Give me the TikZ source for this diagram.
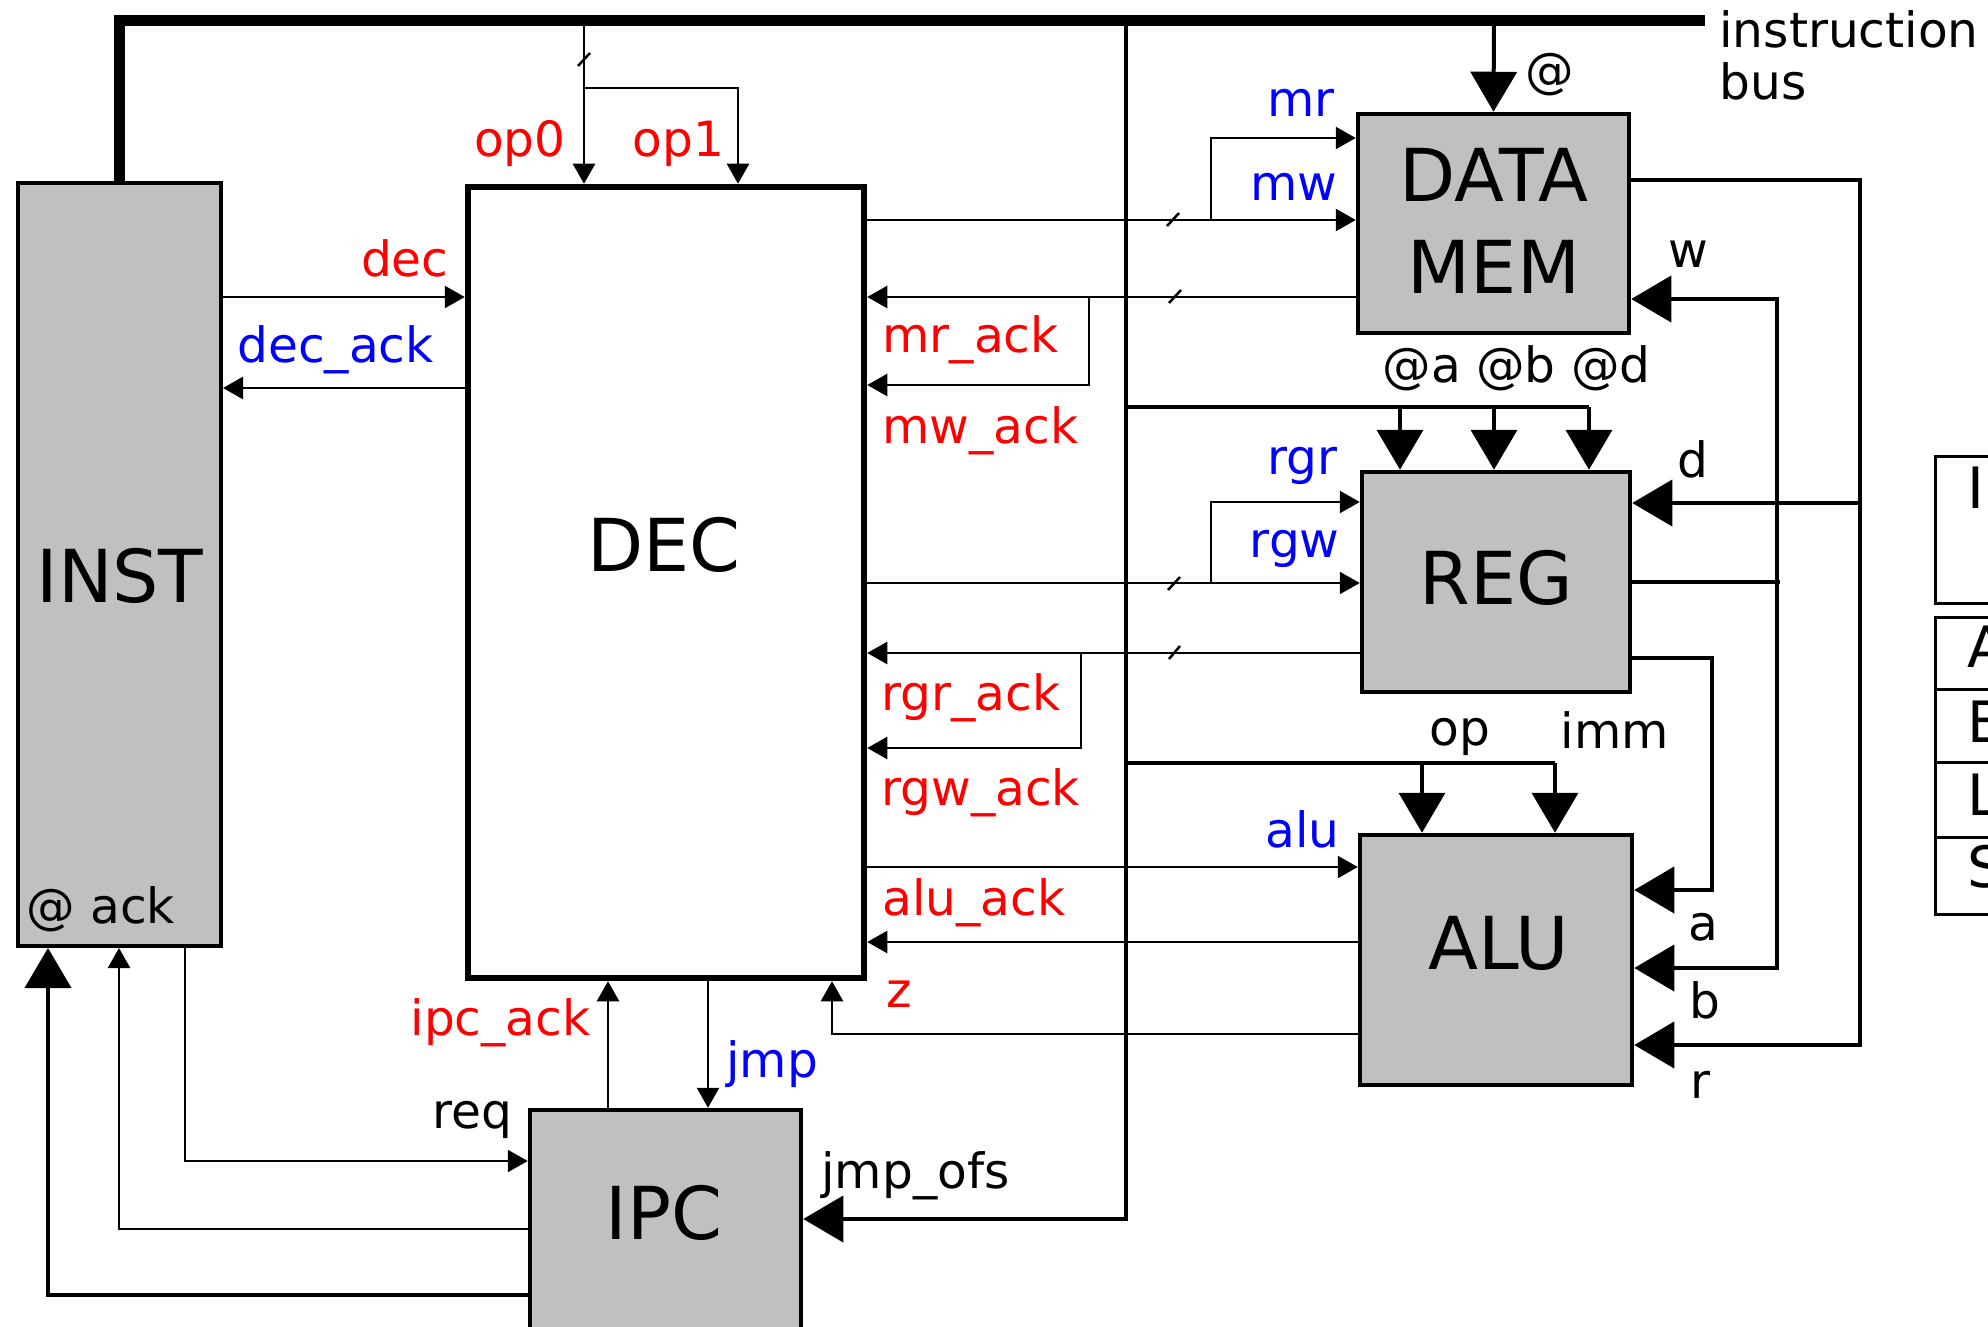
\documentclass[tikz,border=0pt]{standalone}
\usepackage{fontspec}
\setmainfont{DejaVu Sans}
\usetikzlibrary{arrows.meta}
\definecolor{boxgray}{RGB}{192,192,192}
\definecolor{sigred}{RGB}{255,0,0}
\definecolor{sigblue}{RGB}{0,0,255}
\tikzset{
 box/.style={draw, line width=2.25pt, fill=boxgray, inner sep=0pt},
 sig/.style={line width=1.25pt},
 med/.style={line width=2pt},
 busline/.style={line width=5.5pt},
 sarr/.style={-{Triangle[length=10pt,width=11pt]}},
 barr/.style={-{Triangle[length=20pt,width=23pt]}},
 lbl/.style={inner sep=0pt, font=\fontsize{24.3pt}{30pt}\selectfont},
 rlbl/.style={lbl, text=sigred},
 blbl/.style={lbl, text=sigblue},
 blk/.style={inner sep=0pt, font=\fontsize{36.5pt}{44pt}\selectfont},
 tbl/.style={inner sep=0pt, font=\fontsize{28.5pt}{34pt}\selectfont},
}
\begin{document}
\begin{tikzpicture}[x=0.5pt,y=-0.5pt]
\useasboundingbox (0,0) rectangle (1988,1327);
\fill[white] (0,0) rectangle (1988,1327);
\clip (0,0) rectangle (1988,1327);

% blocks
\node[box, line width=2pt, minimum width=101.5pt, minimum height=381.5pt] (inst) at (119.5,564.5) {};
\node[box, fill=white, line width=3.25pt, minimum width=198pt, minimum height=395.5pt] (dec) at (666,582.5) {};
\node[box, minimum width=135.5pt, minimum height=109.5pt] (mem) at (1493.5,223.5) {};
\node[box, minimum width=134pt, minimum height=110pt] (reg) at (1496,582) {};
\node[box, minimum width=136pt, minimum height=125pt] (alu) at (1496,960) {};
\node[box, minimum width=135.5pt, minimum height=145pt] (ipc) at (665.5,1255) {};

\node[blk] (instT) at (120,576) {INST};
\node[blk] (decT) at (664,545) {DEC};
\node[blk] (memT1) at (1494,175) {DATA};
\node[blk] (memT2) at (1494,267) {MEM};
\node[blk] (regT) at (1496,578) {REG};
\node[blk] (aluT) at (1499,943) {ALU};
\node[blk] (ipcT) at (664,1213) {IPC};

% instruction bus
\draw[busline] (inst.north) |- (1705,21);
\node[lbl, anchor=base west] (busT1) at (1719,48) {instruction};
\node[lbl, anchor=base west] (busT2) at (1719,100) {bus};

% op0 / op1
\draw[sig,sarr] (584,21) -- (dec.north -| 584,0);
\draw[sig,sarr] (584,88) -| (dec.north -| 738,0);
\draw[sig] (578,66) -- (590,53);
\node[rlbl, anchor=base east] (lop0) at (566,157) {op0};
\node[rlbl, anchor=base west] (lop1) at (632,157) {op1};

% INST <-> DEC
\draw[sig,sarr] (inst.east |- 0,297) -- (dec.west |- 0,297);
\draw[sig,sarr] (dec.west |- 0,388) -- (inst.east |- 0,388);
\node[rlbl, anchor=base east] (ldec) at (449,277) {dec};
\node[blbl, anchor=base west] (ldecack) at (237,362) {dec\_ack};
\node[lbl, anchor=base west] (lat) at (26,923) {@ ack};

% DEC <-> DATA MEM
\draw[sig,sarr] (dec.east |- 0,220) -- (mem.west |- 0,220);
\draw[sig,sarr] (1211,220) |- (mem.west |- 0,138);
\draw[sig] (1167,226) -- (1179,213);
\draw[sig,sarr] (mem.west |- 0,297) -- (dec.east |- 0,297);
\draw[sig,sarr] (1089,297) |- (dec.east |- 0,385);
\draw[sig] (1169,303) -- (1181,290);
\node[blbl, anchor=base east] (lmr) at (1335,117) {mr};
\node[blbl, anchor=base east] (lmw) at (1338,200) {mw};
\node[rlbl, anchor=base west] (lmrack) at (882,352) {mr\_ack};
\node[rlbl, anchor=base west] (lmwack) at (882,443) {mw\_ack};

% DEC <-> REG
\draw[sig,sarr] (dec.east |- 0,583) -- (reg.west |- 0,583);
\draw[sig,sarr] (1211,583) |- (reg.west |- 0,502);
\draw[sig] (1168,590) -- (1180,577);
\draw[sig,sarr] (reg.west |- 0,653) -- (dec.east |- 0,653);
\draw[sig,sarr] (1081,653) |- (dec.east |- 0,748);
\draw[sig] (1169,659) -- (1180,646);
\node[blbl, anchor=base east] (lrgr) at (1338,474) {rgr};
\node[blbl, anchor=base east] (lrgw) at (1340,557) {rgw};
\node[rlbl, anchor=base west] (lrgrack) at (881,710) {rgr\_ack};
\node[rlbl, anchor=base west] (lrgwack) at (881,805) {rgw\_ack};

% DEC <-> ALU
\draw[sig,sarr] (dec.east |- 0,867) -- (alu.west |- 0,867);
\draw[sig,sarr] (alu.west |- 0,942) -- (dec.east |- 0,942);
\draw[sig,sarr] (alu.west |- 0,1034) -| (dec.south -| 832,0);
\node[blbl, anchor=base east] (lalu) at (1340,847) {alu};
\node[rlbl, anchor=base west] (laluack) at (882,915) {alu\_ack};
\node[rlbl, anchor=base west] (lz) at (886,1007) {z};

% DEC <-> IPC
\draw[sig,sarr] (ipc.north -| 608,0) -- (dec.south -| 608,0);
\draw[sig,sarr] (dec.south -| 708,0) -- (ipc.north -| 708,0);
\node[rlbl, anchor=base east] (lipcack) at (591,1035) {ipc\_ack};
\node[blbl, anchor=base west] (ljmp) at (726,1077) {jmp};

% INST <-> IPC
\draw[sig,sarr] (inst.south -| 185,0) |- (ipc.west |- 0,1161);
\draw[sig,sarr] (ipc.west |- 0,1229) -| (inst.south -| 119,0);
\draw[med,barr] (ipc.west |- 0,1295) -| (inst.south -| 48,0);
\node[lbl, anchor=base east] (lreq) at (513,1128) {req};

% bus tap to IPC, REG addresses, ALU op/imm
\draw[med,barr] (1126,21) |- (ipc.east |- 0,1219);
\node[lbl, anchor=base west] (ljmpofs) at (821,1188) {jmp\_ofs};
\draw[med] (1126,407) -- (1589,407);
\foreach \xx in {1400,1494,1589} \draw[med,barr] (\xx,407) -- (reg.north -| \xx,0);
\node[lbl, anchor=base west] (laddr) at (1382,382) {@a @b @d};
\draw[med] (1126,763) -- (1555,763);
\foreach \xx in {1422,1555} \draw[med,barr] (\xx,763) -- (alu.north -| \xx,0);
\node[lbl, anchor=base] (lop) at (1460,745) {op};
\node[lbl, anchor=base] (limm) at (1615,748) {imm};
\draw[med,barr] (1494,21) -- (mem.north);
\node[lbl] (lataddr) at (1550,75) {@};

% right-hand data paths
\draw[med,barr] (mem.east |- 0,180) -| (1860,1045) -- (alu.east |- 0,1045);
\draw[med,barr] (1860,503) -- (reg.east |- 0,503);
\draw[med] (reg.east |- 0,582) -- (1780,582);
\draw[med,barr] (1777,582) |- (mem.east |- 0,299);
\draw[med,barr] (1777,582) |- (alu.east |- 0,968);
\draw[med,barr] (reg.east |- 0,658) -| (1712,890) -- (alu.east |- 0,890);
\node[lbl, anchor=base] (lw) at (1688,267) {w};
\node[lbl, anchor=base] (ld) at (1693,477) {d};
\node[lbl, anchor=base] (la) at (1703,940) {a};
\node[lbl, anchor=base] (lb) at (1705,1018) {b};
\node[lbl, anchor=base] (lr) at (1700,1098) {r};

% partial table at right edge
\draw[line width=1.5pt] (1935,456) rectangle (2100,603);
\draw[line width=1.5pt] (1935,617) rectangle (2100,914);
\foreach \yy in {689,762,837} \draw[line width=1.5pt] (1935,\yy) -- (2100,\yy);
\node[tbl, anchor=base west] (tI) at (1967,508) {I};
\node[tbl, anchor=base west] (tA) at (1967,667) {A};
\node[tbl, anchor=base west] (tB) at (1967,742) {B};
\node[tbl, anchor=base west] (tL) at (1967,815) {L};
\node[tbl, anchor=base west] (tS) at (1967,887) {S};
\end{tikzpicture}
\end{document}
